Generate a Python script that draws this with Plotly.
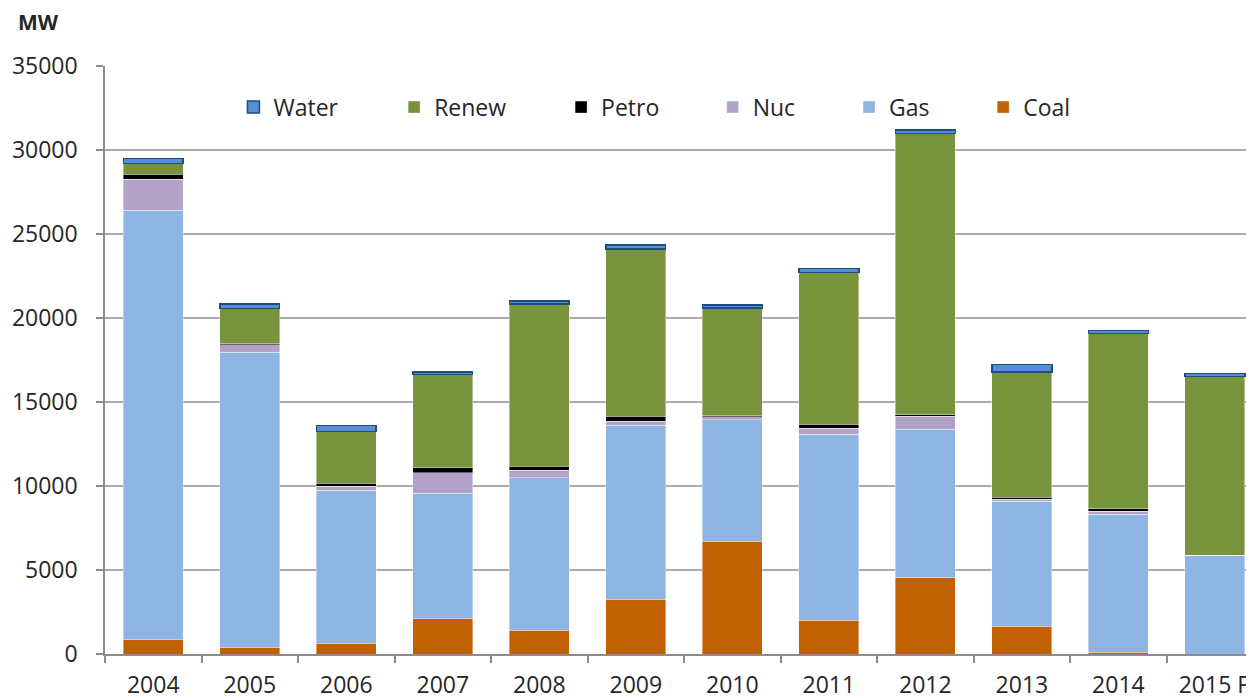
import plotly.graph_objects as go

years = ["2004", "2005", "2006", "2007", "2008", "2009", "2010", "2011", "2012", "2013", "2014", "2015 P"]
coal = [850, 400, 640, 2100, 1400, 3250, 6700, 2000, 4540, 1640, 110, 0]
gas = [25570, 17560, 9100, 7480, 9100, 10360, 7250, 11080, 8830, 7460, 8200, 5870]
nuc = [1830, 440, 260, 1210, 450, 240, 160, 370, 780, 100, 180, 0]
petro = [300, 70, 175, 300, 220, 300, 80, 240, 100, 140, 160, 0]
renew = [650, 2090, 3075, 5540, 9650, 9950, 6410, 9020, 16740, 7450, 10420, 10660]
water = [300, 280, 360, 170, 180, 250, 160, 250, 200, 440, 180, 180]

y_ticks = [0, 5000, 10000, 15000, 20000, 25000, 30000, 35000]

FONT = "Open Sans"
TXT = "#262626"

series = [
    ("Coal", coal, "#C06000", "rgba(255,255,255,0.5)", 0.8, "legend6", 0.7590),
    ("Gas", gas, "#8EB4E3", "rgba(255,255,255,0.5)", 0.8, "legend5", 0.6431),
    ("Nuc", nuc, "#B3A2C7", "rgba(255,255,255,0.5)", 0.8, "legend4", 0.5252),
    ("Petro", petro, "#000000", "rgba(255,255,255,0.5)", 0.8, "legend3", 0.3942),
    ("Renew", renew, "#77933C", "rgba(255,255,255,0.5)", 0.8, "legend2", 0.2499),
    ("Water", water, "#558ED5", "#1F4E79", 1.5, "legend", 0.1110),
]

fig = go.Figure()
layout_legends = {}
for name, vals, color, lcolor, lw, leg, lx in series:
    fig.add_trace(go.Bar(
        x=years, y=vals, name=name,
        marker=dict(color=color, line=dict(color=lcolor, width=lw)),
        width=0.62, legend=leg,
    ))
    layout_legends[leg] = dict(
        x=lx, xanchor="left", y=0.930, yanchor="middle",
        orientation="h", bgcolor="rgba(0,0,0,0)",
        font=dict(family=FONT, size=23, color=TXT),
    )

fig.update_layout(
    width=1254, height=698,
    barmode="stack",
    plot_bgcolor="white", paper_bgcolor="white",
    margin=dict(l=97, r=0, t=58, b=52),
    font=dict(family=FONT, size=23, color=TXT),
    showlegend=True,
    **layout_legends,
)

fig.update_xaxes(
    range=[-0.5, 11.488], type="category",
    showline=True, linecolor="#8C8C8C", linewidth=1.5,
    ticks="outside", tickson="boundaries", ticklen=7, tickcolor="#8C8C8C", tickwidth=1.5,
    tickfont=dict(family=FONT, size=23, color=TXT),
    showgrid=False,
    ticklabelstandoff=10,
)
fig.update_yaxes(
    range=[0, 35000], tickvals=y_ticks, tickformat="d",
    showline=True, linecolor="#8C8C8C", linewidth=1.5,
    ticks="outside", ticklen=7, tickcolor="#8C8C8C", tickwidth=1.5,
    showgrid=True, gridcolor="#ABABAB", gridwidth=1.5,
    zeroline=False,
    tickfont=dict(family=FONT, size=23, color=TXT),
    ticklabelstandoff=14,
)

fig.add_annotation(
    text="<b>MW</b>", xref="paper", yref="paper",
    x=-0.0770, y=1.075, xanchor="left", yanchor="middle",
    showarrow=False, font=dict(family=FONT, size=21, color=TXT),
)

fig.write_html("out.html")
